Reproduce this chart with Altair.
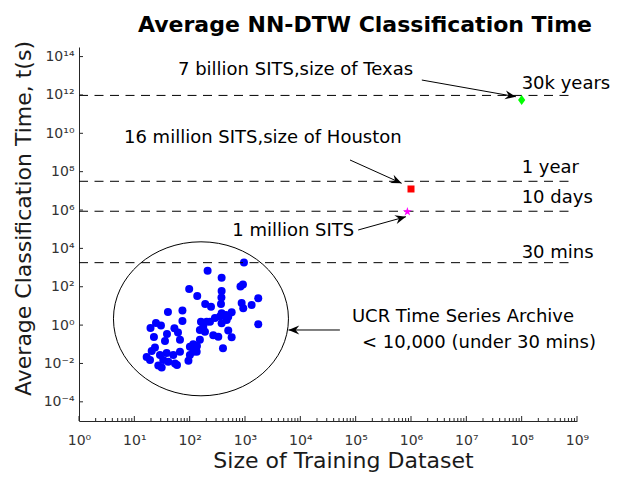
import math
import altair as alt
import pandas as pd

FONT = "DejaVu Sans"
W, H = 498, 374
X_DOMAIN = [1, 1e9]
Y_DOMAIN = [1e-5, 10 ** 14.5]

# ---- UCR archive datasets: training size vs average classification time (s)
ucr_size = [958, 211, 378, 828, 918, 98, 137, 378, 375, 368, 191, 243, 870, 930,
            1319, 1735, 40.5, 74, 74, 24.6, 19.6, 30.3, 160, 203, 286, 353, 453,
            574, 498, 378, 1735, 53, 61.5, 38.9, 22.6, 66.8, 35.8, 153, 189, 267,
            329, 498, 574, 153, 135.5, 101, 116, 400, 23.6, 20.6, 16.7, 19.2, 66.8,
            38.4, 50.6, 29.1, 33.3, 116, 101, 95, 27.1, 31.2, 54.3, 59, 41, 134,
            378, 466, 233, 176]
ucr_time = [1837, 687, 296, 103, 131, 76, 33, 60, 27.5, 12.6, 12.6, 9.1, 14.2, 7.5,
            11.2, 25, 4.8, 5.8, 1.64, 1.29, 0.71, 0.95, 1.51, 1.51, 2.35, 2.8, 3.4,
            4.7, 2.75, 4.1, 1.1, 0.68, 0.41, 0.34, 0.24, 0.17, 0.15, 0.56, 0.45, 0.30,
            0.25, 0.52, 0.23, 0.17, 0.081, 0.075, 0.1, 0.062, 0.068, 0.045, 0.022,
            0.015, 0.041, 0.035, 0.028, 0.028, 0.015, 0.041, 0.028, 0.014, 0.0078,
            0.0062, 0.01, 0.0083, 0.0124, 0.041, 1.24, 1.85, 1.51, 0.83]

# ---- large SITS estimates
STAR = ("M0,-1L0.225,-0.309L0.951,-0.309L0.363,0.118L0.588,0.809L0,0.382"
        "L-0.588,0.809L-0.363,0.118L-0.951,-0.309L-0.225,-0.309Z")
sits_size = [1e8, 1e6, 8.6e5]
sits_time = [5.5e11, 1.25e7, 8.2e5]
sits_color = ["#00FF00", "#FF0000", "#FF00FF"]
sits_shape = ["M0,-1.25L0.9,0L0,1.25L-0.9,0Z", "square", STAR]
sits_msize = [64, 49, 90]

# ---- reference time lines
ref_time = [9.46e11, 3.15e7, 8.64e5, 1800]
ref_label = ["30k years", "1 year", "10 days", "30 mins"]
ref_label_y = [3.7e12, 1.55e8, 4.2e6, 5.96e3]
ref_x_start = 1
ref_x_end = 9.2e8
ref_label_x = 1e8

# ---- annotation text
ann_text = ["7 billion SITS,size of Texas", "16 million SITS,size of Houston",
            "1 million SITS", "UCR Time Series Archive", "< 10,000 (under 30 mins)"]
ann_x = [61.5, 6.5, 588, 8.55e4, 1.3e5]
ann_y = [2.0e13, 5.7e9, 8.1e4, 2.74, 0.117]

# ---- arrows (from text to target)
arrow_x1 = [1.57e6, 7.9e4, 1.11e5, 5.19e4]
arrow_y1 = [6.0e12, 4.06e8, 9.1e4, 0.556]
arrow_x2 = [7.85e7, 6.77e5, 8.1e5, 6.1e3]
arrow_y2 = [8.1e11, 2.48e7, 4.5e5, 0.556]

# ---- ellipse around UCR cluster
ellipse_x = [160]
ellipse_y = [2.13]

# ---- ticks
x_tick_exp = list(range(0, 10))
y_tick_exp = list(range(-4, 15, 2))
minor_mult = [2, 3, 4, 5, 6, 7, 8, 9]

SUP = str.maketrans("0123456789-", "⁰¹²³⁴⁵⁶⁷⁸⁹⁻")


def label_expr(exps):
    expr = "''"
    for e in exps:
        expr = f"abs(log(datum.value)/LN10 - ({e})) < 0.01 ? '10{str(e).translate(SUP)}' : " + expr
    return expr


xs = alt.Scale(type="log", domain=X_DOMAIN, nice=False)
ys = alt.Scale(type="log", domain=Y_DOMAIN, nice=False)

axis_common = dict(grid=False, ticks=False, domainColor="#262626", domainWidth=1,
                   labelFont=FONT, labelFontSize=14, labelColor="#333333",
                   titleFont=FONT, titleFontSize=22, titleFontWeight="normal",
                   titleColor="#1a1a1a", titleBaseline="alphabetic")

x_axis = alt.Axis(values=[10 ** e for e in x_tick_exp], labelExpr=label_expr(x_tick_exp),
                  labelPadding=12, labelBaseline="top", labelFlush=False,
                  title="Size of Training Dataset", titleX=264, titleY=46,
                  titleAnchor="start", titleAlign="center", **axis_common)
y_axis = alt.Axis(values=[10 ** e for e in y_tick_exp], labelExpr=label_expr(y_tick_exp),
                  labelPadding=5, labelFlush=False,
                  title="Average Classification Time, t(s)", titleX=-49, titleY=171,
                  titleAngle=270, titleAlign="center", **axis_common)


def X(field):
    return alt.X(field, scale=xs, axis=x_axis)


def Y(field):
    return alt.Y(field, scale=ys, axis=y_axis)


# ---- data frames
ucr = pd.DataFrame({"size": ucr_size, "time": ucr_time})
sits = pd.DataFrame({"size": sits_size, "time": sits_time, "color": sits_color,
                     "shape": sits_shape, "msize": sits_msize})
refs = pd.DataFrame({"t": ref_time, "x1": ref_x_start, "x2": ref_x_end,
                     "label": ref_label, "ly": ref_label_y, "lx": ref_label_x})
ann = pd.DataFrame({"txt": ann_text, "ax": ann_x, "ay": ann_y})

pxx = W / (math.log10(X_DOMAIN[1]) - math.log10(X_DOMAIN[0]))
pxy = H / (math.log10(Y_DOMAIN[1]) - math.log10(Y_DOMAIN[0]))
angles = []
for a, b, c, d in zip(arrow_x1, arrow_y1, arrow_x2, arrow_y2):
    dx = (math.log10(c) - math.log10(a)) * pxx
    dy = -(math.log10(d) - math.log10(b)) * pxy
    angles.append(math.degrees(math.atan2(dy, dx)) % 360)
arrows = pd.DataFrame({"x1": arrow_x1, "y1": arrow_y1, "x2": arrow_x2,
                       "y2": arrow_y2, "angle": angles})
ell = pd.DataFrame({"ex": ellipse_x, "ey": ellipse_y})

x_major = pd.DataFrame({"v": [10.0 ** e for e in x_tick_exp]})
x_minor = pd.DataFrame({"v": [m * 10.0 ** e for e in x_tick_exp[:-1] for m in minor_mult]})
y_major = pd.DataFrame({"v": [10.0 ** e for e in y_tick_exp]})

# ---- layers
ucr_pts = alt.Chart(ucr).mark_circle(size=64, color="#0000FF", opacity=1).encode(
    x=X("size:Q"), y=Y("time:Q"))

ref_lines = alt.Chart(refs).mark_rule(color="black", strokeWidth=1, strokeDash=[9, 6.5]).encode(
    x=X("x1:Q"), x2="x2:Q", y=Y("t:Q"))
ref_text = alt.Chart(refs).mark_text(align="left", baseline="middle", font=FONT,
                                     fontSize=18, color="black").encode(
    x=X("lx:Q"), y=Y("ly:Q"), text="label:N")

sits_pts = alt.Chart(sits).mark_point(filled=True, opacity=1, strokeWidth=0).encode(
    x=X("size:Q"), y=Y("time:Q"),
    color=alt.Color("color:N", scale=None),
    shape=alt.Shape("shape:N", scale=None),
    size=alt.Size("msize:Q", scale=None),
)

ann_text_l = alt.Chart(ann).mark_text(align="left", baseline="middle", font=FONT,
                                      fontSize=18, color="black").encode(
    x=X("ax:Q"), y=Y("ay:Q"), text="txt:N")

arrow_lines = alt.Chart(arrows).mark_rule(color="black", strokeWidth=1).encode(
    x=X("x1:Q"), x2="x2:Q", y=Y("y1:Q"), y2="y2:Q")
arrow_heads = alt.Chart(arrows).mark_point(
    shape="M0,0L-2.4,-1L-1.6,0L-2.4,1Z", filled=True, color="black", opacity=1,
    size=81, strokeWidth=0,
).encode(x=X("x2:Q"), y=Y("y2:Q"), angle=alt.Angle("angle:Q", scale=None))

ellipse = alt.Chart(ell).mark_point(
    shape="M-1,0A1,0.88,0,1,1,1,0A1,0.88,0,1,1,-1,0Z", filled=False,
    color="black", strokeWidth=1, size=175 * 175, opacity=1,
).encode(x=X("ex:Q"), y=Y("ey:Q"))

xt_major = alt.Chart(x_major).mark_rule(color="#262626", strokeWidth=1).encode(
    x=X("v:Q"), y=alt.value(H), y2=alt.value(H - 5))
xt_minor = alt.Chart(x_minor).mark_rule(color="#262626", strokeWidth=1).encode(
    x=X("v:Q"), y=alt.value(H), y2=alt.value(H - 3))
yt_major = alt.Chart(y_major).mark_rule(color="#262626", strokeWidth=1).encode(
    y=Y("v:Q"), x=alt.value(0), x2=alt.value(4))

chart = alt.layer(
    ucr_pts, ref_lines, ref_text, ellipse, arrow_lines, arrow_heads,
    sits_pts, ann_text_l, xt_major, xt_minor, yt_major,
).properties(
    width=W, height=H,
    title=alt.TitleParams("Average NN-DTW Classification Time", font=FONT, fontSize=22,
                          fontWeight="bold", color="black", anchor="middle", dx=37,
                          dy=31, offset=18, baseline="alphabetic", frame="group"),
    autosize=alt.AutoSizeParams(type="none"),
    padding={"left": 71, "top": 39, "right": 38, "bottom": 51},
).configure_view(stroke=None)

chart.save("out.html", embed_options={"renderer": "svg", "actions": False})
